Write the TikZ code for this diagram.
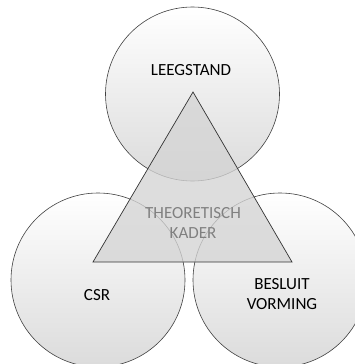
\documentclass[tikz,border=0pt]{standalone}
\usepackage{fontspec}
\setmainfont{Carlito}
\begin{document}
\begin{tikzpicture}[x=1pt,y=-1pt,
  ring/.style={circle,draw=black!75,line width=0.6pt,minimum size=174pt,inner sep=0pt,
    top color=white,bottom color=black!14},
  label/.style={font=\fontsize{17}{20}\selectfont,align=center,text=black},
  frame/.style={draw=black!80,line width=0.7pt,fill=black!17,fill opacity=0.78,line join=miter}]
  \useasboundingbox (0,0) rectangle (355,364);
  % the three themes
  \node[ring] (top) at (192.5,94) {};
  \node[ring] (left) at (98,280) {};
  \node[ring] (right) at (280,280) {};
  \node[label] (ttop) at (191,70) {LEEGSTAND};
  \node[label] (tleft) at (97,295) {CSR};
  \node[label] (tright) at (282,294) {BESLUIT\\[0pt]VORMING};
  % the framework triangle over them
  \coordinate (apex) at (193,92);
  \coordinate (bl) at (93,262);
  \coordinate (br) at (292,262);
  \draw[frame] (apex) -- (br) -- (bl) -- cycle;
  \node[label,text=black!50] (kader) at (193,223) {THEORETISCH\\[0pt]KADER};
\end{tikzpicture}
\end{document}
